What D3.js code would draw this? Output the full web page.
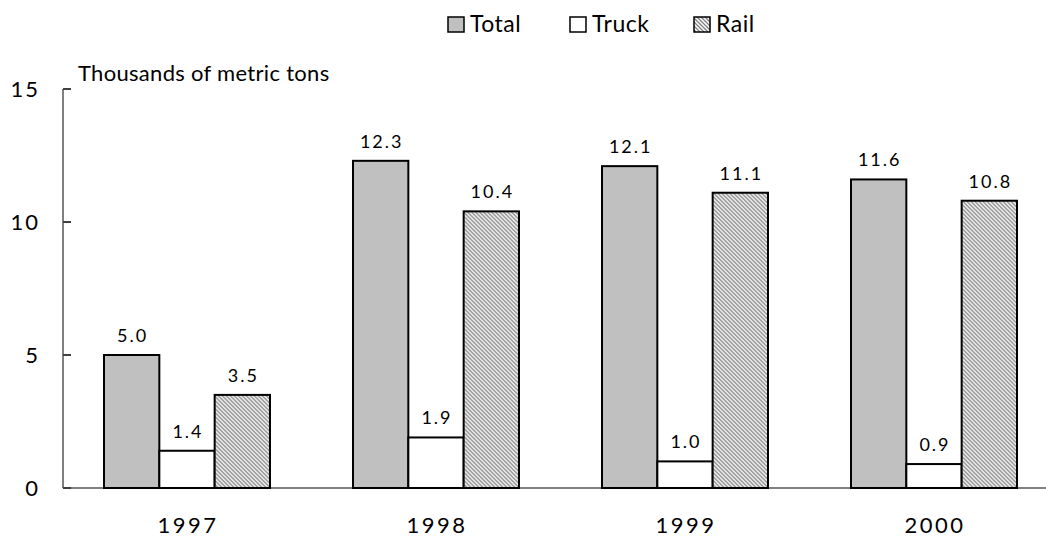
<!DOCTYPE html>
<html><head><meta charset="utf-8">
<script src="https://cdn.jsdelivr.net/npm/d3@7"></script>
<style>body{margin:0;background:#fff;} text{font-family:"Lato","DejaVu Sans",sans-serif;fill:#000;}</style>
</head><body>
<svg id="c" width="1046" height="540"></svg>
<script>
const years = ["1997","1998","1999","2000"];
const seriesNames = ["Total","Truck","Rail"];
const total = [5.0,12.3,12.1,11.6];
const truck = [1.4,1.9,1.0,0.9];
const rail = [3.5,10.4,11.1,10.8];
const yTicks = [0,5,10,15];
const values = [total,truck,rail];

const svg = d3.select("#c");
const defs = svg.append("defs");
const pat = defs.append("pattern").attr("id","hatch").attr("patternUnits","userSpaceOnUse")
  .attr("width",4).attr("height",4);
pat.append("rect").attr("width",4).attr("height",4).attr("fill","#fff");
pat.append("path").attr("d","M-1,-1 L5,5 M-1,3 L1,5 M3,-1 L5,1").attr("stroke","#808080").attr("stroke-width",1.3);

const fills = ["#c0c0c0","#ffffff","url(#hatch)"];
const x0 = d3.scaleBand().domain(years).range([62.5,1058.5]).paddingInner(0).paddingOuter(0);
const x1 = d3.scaleBand().domain(seriesNames).range([41.5,207.5]);
const y = d3.scaleLinear().domain([0,15]).range([488,89]);

// axes
svg.append("line").attr("x1",63).attr("x2",1046).attr("y1",488).attr("y2",488).attr("stroke","#808080").attr("stroke-width",2);
svg.append("line").attr("x1",63).attr("x2",63).attr("y1",89).attr("y2",488).attr("stroke","#808080").attr("stroke-width",2);
yTicks.forEach(t=>{
  svg.append("line").attr("x1",63).attr("x2",71).attr("y1",y(t)).attr("y2",y(t)).attr("stroke","#404040").attr("stroke-width",2);
  svg.append("text").attr("x",40).attr("y",y(t)).attr("dy","0.36em").attr("text-anchor","end").attr("font-size",22).attr("letter-spacing",2).text(t);
});

years.forEach((yr,i)=>{
  const g = svg.append("g").attr("transform",`translate(${x0(yr)},0)`);
  seriesNames.forEach((s,j)=>{
    const v = values[j][i];
    g.append("rect").attr("x",x1(s)).attr("y",y(v)).attr("width",x1.bandwidth()).attr("height",y(0)-y(v))
      .attr("fill",fills[j]).attr("stroke","#000").attr("stroke-width",2);
    g.append("text").attr("x",x1(s)+x1.bandwidth()/2+1).attr("y",y(v)-13).attr("text-anchor","middle").attr("font-size",18).attr("letter-spacing",2).text(v.toFixed(1));
  });
  svg.append("text").attr("x",x0(yr)+x0.bandwidth()/2+1).attr("y",533).attr("text-anchor","middle").attr("font-size",22).attr("letter-spacing",2.5).text(yr);
});

svg.append("text").attr("x",78).attr("y",81).attr("font-size",22).attr("letter-spacing",0.3).text("Thousands of metric tons");

// legend
const legX = [448,570,694];
seriesNames.forEach((s,j)=>{
  svg.append("rect").attr("x",legX[j]).attr("y",17).attr("width",16).attr("height",15).attr("fill",fills[j]).attr("stroke","#000").attr("stroke-width",1.5);
  svg.append("text").attr("x",legX[j]+22).attr("y",32).attr("font-size",23).attr("letter-spacing",0.5).text(s);
});
</script>
</body></html>
